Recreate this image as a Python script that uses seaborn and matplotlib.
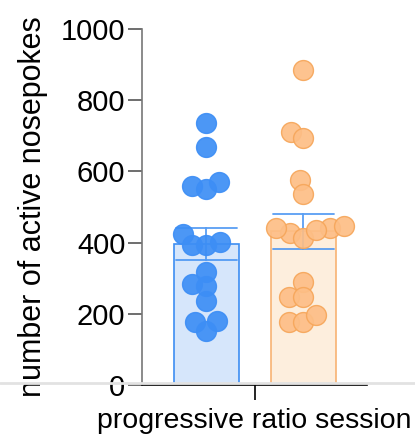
import numpy as np
import pandas as pd
import matplotlib
matplotlib.use("Agg")
import matplotlib.pyplot as plt
from matplotlib.lines import Line2D
import seaborn as sns

session_label = "progressive ratio session"
groups = ["A", "B"]
group_a = [736, 668, 550, 569, 560, 394, 403, 424, 392, 317, 284, 278, 236, 180, 178, 153]
group_b = [884, 712, 694, 575, 537, 428, 441, 441, 448, 413, 434, 288, 247, 247, 178, 178, 197]
y_ticks = [0, 200, 400, 600, 800, 1000]

df = pd.DataFrame({
    "session": [session_label] * (len(group_a) + len(group_b)),
    "group": [groups[0]] * len(group_a) + [groups[1]] * len(group_b),
    "value": group_a + group_b,
})

sns.set_style("white")
plt.rcParams["font.family"] = ["Liberation Sans", "DejaVu Sans"]
plt.rcParams["text.color"] = "black"
plt.rcParams["axes.labelcolor"] = "black"
plt.rcParams["xtick.color"] = "black"
plt.rcParams["ytick.color"] = "black"

bar_fill = ["#d6e6fb", "#fdeedd"]
bar_edge = ["#3d8ef2", "#f8b373"]
pt_fill = ["#3d8ef5", "#fdbe86"]
pt_edge = ["#3d8ef5", "#f6a65a"]

fig = plt.figure(figsize=(4.15, 4.37), dpi=100)
ax = fig.add_axes([142 / 415, 1 - 385 / 437, 225 / 415, 356 / 437])

sns.barplot(data=df, x="session", y="value", hue="group", hue_order=groups,
            palette=bar_fill, saturation=1, errorbar="se", capsize=0.5, gap=0.33,
            err_kws={"linewidth": 1.3}, ax=ax, legend=False, zorder=1)
for i, p in enumerate(ax.patches):
    p.set_edgecolor(bar_edge[i])
    p.set_linewidth(1.2)
for i, l in enumerate(ax.lines):
    l.set_color(bar_edge[i // 3] if len(ax.lines) == 6 else bar_edge[0])
    l.set_alpha(0.85)

n_before = len(ax.collections)
sns.swarmplot(data=df, x="session", y="value", hue="group", hue_order=groups,
              palette=pt_fill, dodge=True, size=10, ax=ax, legend=False, zorder=3)

ax.set_xlim(-0.466, 0.462)
ax.set_ylim(0, 1000)
ax.set_yticks(y_ticks)
ax.set_xlabel(session_label, fontsize=20.5, labelpad=2)
ax.set_ylabel("number of active nosepokes", fontsize=22, labelpad=9)
ax.tick_params(axis="y", labelsize=21, length=10, width=1.2, color="#555555", pad=2, left=True)
ax.tick_params(axis="x", labelsize=0, length=11, width=1.2, color="black", bottom=True)
ax.set_xticklabels([""])
sns.despine(ax=ax)
ax.spines["left"].set_color("#777777")
ax.spines["left"].set_linewidth(1.2)
ax.spines["bottom"].set_color("black")
ax.spines["bottom"].set_linewidth(1.2)
ax.spines["bottom"].set_zorder(5)

# compute swarm layout with small markers, then freeze it and enlarge the dots
fig.canvas.draw()
for i, c in enumerate(ax.collections[n_before:]):
    if "draw" in c.__dict__:
        del c.__dict__["draw"]
    c.set_sizes([205])
    c.set_facecolor(pt_fill[i])
    c.set_edgecolor(pt_edge[i])
    c.set_linewidth(1.0)
    c.set_alpha(0.92)

fig.add_artist(Line2D([0, 1], [1 - 383 / 437, 1 - 383 / 437], transform=fig.transFigure,
                      color="#e2e2e2", linewidth=2.0, zorder=4))

fig.savefig("out.png", dpi=100)
